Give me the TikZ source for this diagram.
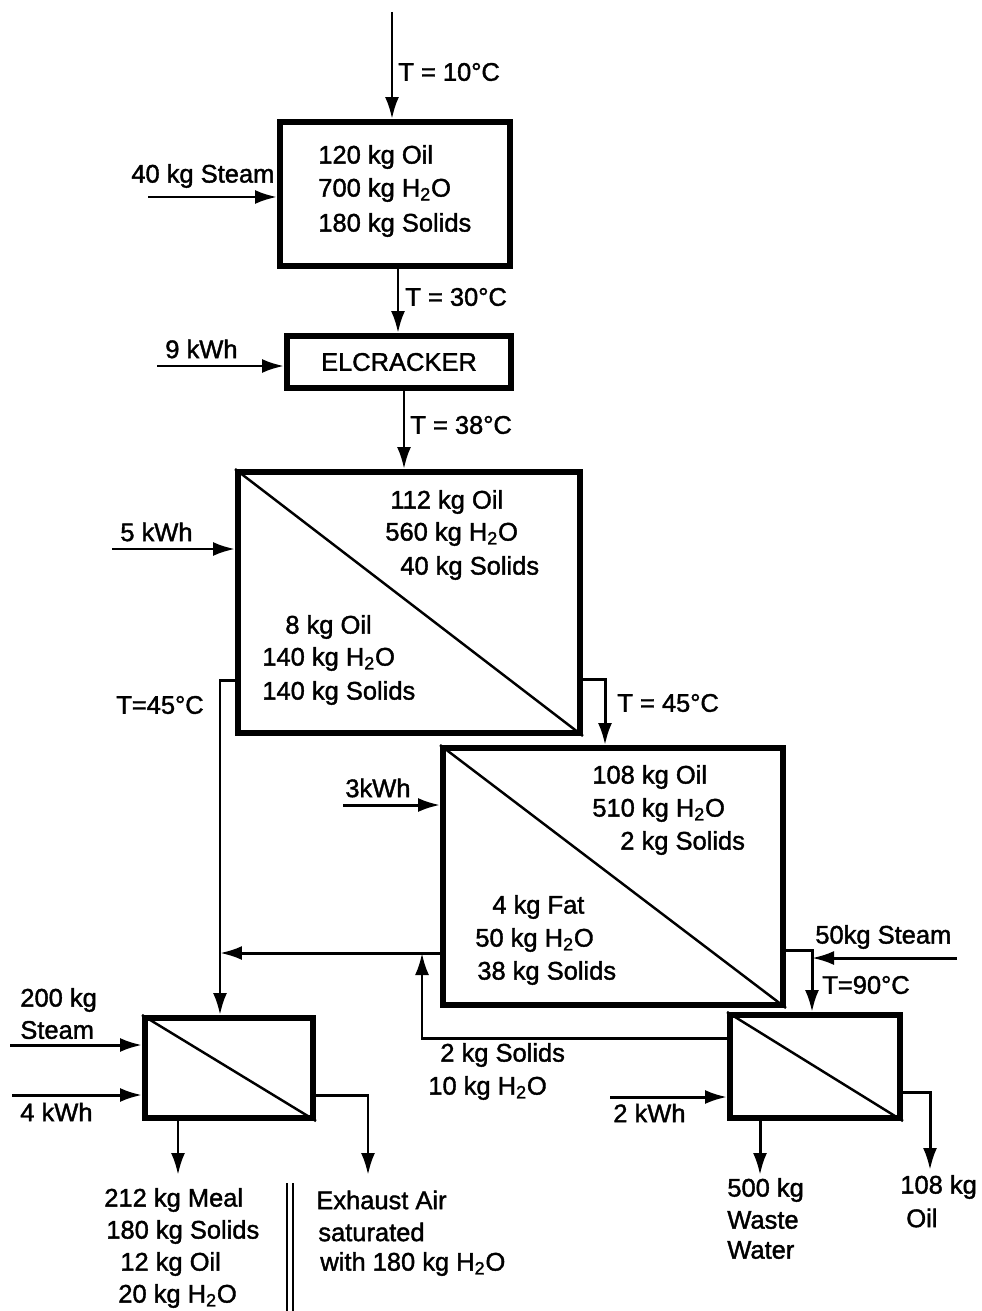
\documentclass[tikz,border=0pt]{standalone}
\usepackage{fontspec}
\setmainfont[FakeBold=1.5]{Liberation Sans}
\usepackage{tikz}
\usetikzlibrary{arrows.meta}
\tikzset{
  vessel/.style={draw, line width=3.4pt, inner sep=0},
  flow/.style={line width=1.7pt, -{Latex[length=4.4mm,width=2.8mm]}},
  pipe/.style={line width=1.7pt}
}

\begin{document}
\begin{tikzpicture}[x=0.02cm, y=-0.02cm,
  % stream / balance labels
  lbl/.style = {font=\fontsize{14.5}{19}\selectfont, inner sep=0, anchor=west},
  % diagonal inside a separating unit
  split/.style = {line width=1.4pt},
  % double bar between the two dryer products
  bar/.style = {line width=1.2pt},
]
\useasboundingbox (0,0) rectangle (981,1311);

% ═══════════════════════════════
%  Units (centres in pixel units of the sheet)
% ═══════════════════
\node[vessel, minimum width=4.6cm,  minimum height=2.88cm] (tank)      at (395,194)   {};
\node[vessel, minimum width=4.48cm, minimum height=1.04cm,
      font=\fontsize{14.5}{19}\selectfont] (cracker) at (399,362) {ELCRACKER};
\node[vessel, minimum width=6.84cm, minimum height=5.22cm] (decanter)  at (409,602.5) {};
\node[vessel, minimum width=6.8cm,  minimum height=5.14cm] (separator) at (613,876.5) {};
\node[vessel, minimum width=3.36cm, minimum height=2cm]    (dryer)     at (229,1068)  {};
\node[vessel, minimum width=3.4cm,  minimum height=2.06cm] (polisher)  at (815,1066.5) {};

% phase split lines
\foreach \u in {decanter, separator, dryer, polisher}
  \draw[split] (\u.north west) -- (\u.south east);

% ═══════════════════════════════
%  Main line: feed -> tank -> ELCRACKER -> decanter
% ═══════════════════
\coordinate (feed) at (392,12);
\draw[flow] (feed) -- (feed |- tank.north);

\coordinate (steamA) at (148,197);
\draw[flow] (steamA) -- (steamA -| tank.west);

\coordinate (xa) at (398,0);
\draw[flow] (xa |- tank.south) -- (xa |- cracker.north);

\coordinate (kwhA) at (157,366);
\draw[flow] (kwhA) -- (kwhA -| cracker.west);

\coordinate (xb) at (404,0);
\draw[flow] (xb |- cracker.south) -- (xb |- decanter.north);

\coordinate (kwhB) at (112,549);
\draw[flow] (kwhB) -- (kwhB -| decanter.west);

% ═══════════════════════════════
%  Decanter outlets
% ═══════════════════
% heavy phase down to the dryer
\coordinate (solL) at (220,680);
\draw[flow] (solL -| decanter.west) -- (solL) -- (solL |- dryer.north);

% light phase on to the separator
\coordinate (liqR) at (605,679);
\draw[flow] (liqR -| decanter.east) -- (liqR) -- (liqR |- separator.north);

\coordinate (kwhC) at (343,805);
\draw[flow] (kwhC) -- (kwhC -| separator.west);

% ═══════════════════════════════
%  Separator outlets and polishing
% ═══════════════════
\coordinate (sludge) at (220,953);
\draw[flow] (sludge -| separator.west) -- (sludge);

\coordinate (oilR) at (812,950);
\draw[flow] (oilR -| separator.east) -- (oilR) -- (oilR |- polisher.north);

\coordinate (steamC) at (957,958);
\draw[flow] (steamC) -- (steamC -| oilR);

% solids returned from the polisher
\coordinate (ret) at (422,1038);
\draw[flow] (ret -| polisher.west) -- (ret) -- (ret |- sludge);

\coordinate (kwhE) at (610,1097);
\draw[flow] (kwhE) -- (kwhE -| polisher.west);

\coordinate (water) at (760,1175);
\draw[flow] (water |- polisher.south) -- (water);

\coordinate (oilE) at (930,1092);
\coordinate (oilout) at (930,1170);
\draw[flow] (oilE -| polisher.east) -- (oilE) -- (oilout);

% ═══════════════════════════════
%  Dryer
% ═══════════════════
\coordinate (steamD) at (10,1045);
\draw[flow] (steamD) -- (steamD -| dryer.west);

\coordinate (kwhD) at (12,1095);
\draw[flow] (kwhD) -- (kwhD -| dryer.west);

\coordinate (meal) at (178,1175);
\draw[flow] (meal |- dryer.south) -- (meal);

\coordinate (air) at (368,1095);
\coordinate (airout) at (368,1175);
\draw[flow] (air -| dryer.east) -- (air) -- (airout);

\coordinate (barA) at (287,1183);
\coordinate (barB) at (293,1183);
\draw[bar] (barA) -- (barA |- 0,1311);
\draw[bar] (barB) -- (barB |- 0,1311);

% ═══════════════════════════════
%  Labels  (left edge x / mid y / text)
% ═══════════════════
\foreach \x/\y/\t [count=\i] in {
    398/72/T = 10°C,
    131/176/40 kg Steam,
    318/157/120 kg Oil,
    318/190/700 kg H\textsubscript{2}O,
    318/225/180 kg Solids,
    405/297/T = 30°C,
    165/349/9 kWh,
    410/425/T = 38°C,
    120/532/5 kWh,
    390/502/112 kg Oil,
    385/534/560 kg H\textsubscript{2}O,
    400/568/40 kg Solids,
    285/627/8 kg Oil,
    262/659/140 kg H\textsubscript{2}O,
    262/693/140 kg Solids,
    116/705/T=45°C,
    617/703/T = 45°C,
    345/788/3kWh,
    592/777/108 kg Oil,
    592/810/510 kg H\textsubscript{2}O,
    620/843/2 kg Solids,
    492/907/4 kg Fat,
    475/940/50 kg H\textsubscript{2}O,
    477/973/38 kg Solids,
    815/937/50kg Steam,
    822/985/T=90°C,
    440/1055/2 kg Solids,
    428/1088/10 kg H\textsubscript{2}O,
    613/1113/2 kWh,
    20/1000/200 kg,
    20/1030/Steam,
    20/1112/4 kWh,
    104/1200/212 kg Meal,
    106/1232/180 kg Solids,
    120/1264/12 kg Oil,
    118/1296/20 kg H\textsubscript{2}O,
    316/1200/Exhaust Air,
    318/1232/saturated,
    320/1264/with 180 kg H\textsubscript{2}O,
    727/1190/500 kg,
    727/1220/Waste,
    727/1250/Water,
    900/1187/108 kg,
    906/1218/Oil}
  \node[lbl] (lbl\i) at (\x,\y) {\t};

\end{tikzpicture}
\end{document}
